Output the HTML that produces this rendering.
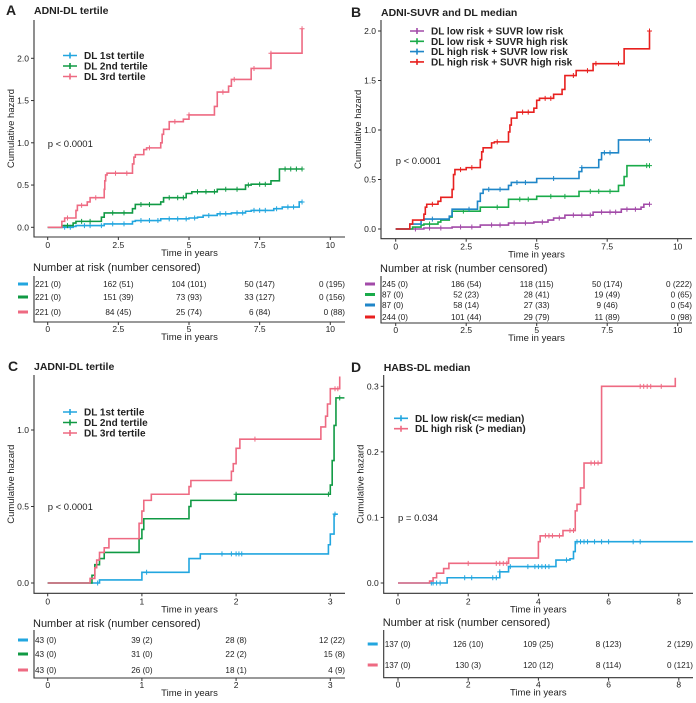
<!DOCTYPE html>
<html><head><meta charset="utf-8"><style>
body{margin:0;background:#fff;}
svg{display:block;font-family:"Liberation Sans",sans-serif;}
</style></head><body>
<svg id="fig" width="696" height="703" viewBox="0 0 696 703"></svg>
<script>
// ---------- data ----------
// Panel A: ADNI-DL tertile
const aT1Steps = [[0,0],[0.5,0],[0.9,0.01],[1.0,0.02],[2.0,0.04],[3.0,0.07],[3.1,0.08],[4.0,0.10],[5.0,0.11],[5.3,0.12],[5.5,0.14],[6.0,0.16],[6.5,0.17],[7.0,0.19],[7.2,0.20],[8.0,0.22],[8.3,0.24],[8.9,0.30],[9.0,0.30]];
const aT2Steps = [[0,0],[0.5,0.02],[0.9,0.05],[1.0,0.07],[1.9,0.12],[2.0,0.17],[3.0,0.22],[3.1,0.27],[4.0,0.30],[4.1,0.35],[4.9,0.40],[5.1,0.42],[6.0,0.45],[7.0,0.50],[7.2,0.51],[7.9,0.55],[8.2,0.69],[9.0,0.69]];
const aT3Steps = [[0,0],[0.5,0.07],[0.6,0.11],[1.0,0.20],[1.05,0.26],[1.4,0.30],[1.5,0.35],[2.0,0.45],[2.02,0.55],[2.05,0.62],[2.1,0.64],[3.0,0.75],[3.05,0.83],[3.1,0.86],[3.4,0.92],[3.5,0.94],[4.0,1.0],[4.05,1.10],[4.1,1.16],[4.3,1.25],[4.8,1.28],[5.0,1.33],[5.9,1.43],[6.0,1.60],[6.4,1.67],[6.5,1.75],[7.2,1.88],[7.9,2.06],[9.0,2.35]];
const aT1Cens = [0.6,0.8,1.3,1.5,1.9,2.3,2.7,3.3,3.6,3.9,4.3,4.6,4.9,5.2,5.7,6.1,6.3,6.7,6.9,7.3,7.5,7.7,8.1,8.5,8.7,9.0];
const aT2Cens = [0.7,1.2,1.5,2.3,2.7,3.3,3.6,4.3,4.6,4.8,5.3,5.6,5.9,6.3,6.7,7.1,7.5,7.7,8.4,8.6,8.8,9.0];
const aT3Cens = [0.7,1.2,1.7,2.4,2.8,3.6,4.5,5.0,6.2,6.6,7.3,7.9,9.0];
const aRisk1 = ["221 (0)","162 (51)","104 (101)","50 (147)","0 (195)"];
const aRisk2 = ["221 (0)","151 (39)","73 (93)","33 (127)","0 (156)"];
const aRisk3 = ["221 (0)","84 (45)","25 (74)","6 (84)","0 (88)"];
const aXTicks = ["0","2.5","5","7.5","10"];
const aYTicks = ["0.0","0.5","1.0","1.5","2.0"];

// Panel B: ADNI-SUVR and DL median
const bLLSteps = [[0,0],[0.5,0],[1.0,0.01],[2.0,0.02],[3.0,0.04],[4.0,0.06],[4.9,0.07],[5.4,0.09],[5.6,0.11],[6.0,0.14],[7.0,0.17],[8.0,0.20],[8.7,0.22],[8.8,0.25],[9.0,0.25]];
const bLHSteps = [[0,0],[0.6,0.02],[0.9,0.04],[1.0,0.05],[1.5,0.07],[1.6,0.09],[1.9,0.12],[2.0,0.18],[3.0,0.22],[4.0,0.30],[5.0,0.33],[6.5,0.38],[7.9,0.44],[8.1,0.53],[8.2,0.64],[9.0,0.64]];
const bHLSteps = [[0,0],[0.5,0.05],[0.9,0.09],[1.0,0.10],[1.9,0.13],[2.0,0.20],[2.9,0.28],[3.0,0.36],[3.1,0.40],[4.0,0.44],[4.1,0.47],[5.0,0.51],[6.5,0.58],[6.6,0.62],[7.2,0.70],[7.3,0.77],[7.9,0.90],[9.0,0.90]];
const bHHSteps = [[0,0],[0.5,0.05],[0.6,0.09],[1.0,0.15],[1.05,0.22],[1.1,0.25],[1.5,0.28],[1.6,0.32],[2.0,0.40],[2.05,0.55],[2.1,0.60],[2.5,0.62],[3.0,0.70],[3.05,0.78],[3.1,0.82],[3.4,0.87],[3.5,0.88],[4.0,0.98],[4.05,1.05],[4.1,1.12],[4.3,1.18],[4.9,1.22],[5.0,1.30],[5.1,1.32],[5.6,1.36],[5.9,1.41],[6.0,1.55],[6.4,1.60],[7.0,1.67],[8.1,1.82],[9.0,2.0]];
const bLLCens = [0.7,1.2,1.6,2.3,2.7,3.4,3.7,4.2,4.6,5.2,5.8,6.3,6.6,6.9,7.3,7.6,7.8,8.2,8.5,9.0];
const bLHCens = [1.2,2.4,3.6,4.4,4.7,5.5,6.0,6.9,7.2,7.6,8.9,9.0];
const bHLCens = [1.3,2.6,3.3,3.7,4.3,4.6,5.6,6.6,7.4,7.6,9.0];
const bHHCens = [1.3,2.3,2.7,3.6,4.5,4.7,5.3,5.5,6.3,6.8,7.1,7.9,9.0];
const bRisk1 = ["245 (0)","186 (54)","118 (115)","50 (174)","0 (222)"];
const bRisk2 = ["87 (0)","52 (23)","28 (41)","19 (49)","0 (65)"];
const bRisk3 = ["87 (0)","58 (14)","27 (33)","9 (46)","0 (54)"];
const bRisk4 = ["244 (0)","101 (44)","29 (79)","11 (89)","0 (98)"];
const bXTicks = ["0","2.5","5","7.5","10"];
const bYTicks = ["0.0","0.5","1.0","1.5","2.0"];

// Panel C: JADNI-DL tertile
const cT1Steps = [[0,0],[0.5,0],[0.55,0.02],[1.0,0.07],[1.5,0.16],[1.62,0.19],[2.98,0.25],[3.0,0.32],[3.04,0.45],[3.08,0.45]];
const cT2Steps = [[0,0],[0.47,0.05],[0.5,0.12],[0.55,0.16],[0.6,0.20],[0.97,0.29],[1.0,0.35],[1.02,0.42],[1.5,0.50],[1.52,0.54],[2.0,0.58],[3.0,0.64],[3.02,0.80],[3.04,1.03],[3.06,1.21],[3.15,1.21]];
const cT3Steps = [[0,0],[0.45,0.03],[0.5,0.10],[0.52,0.15],[0.55,0.20],[0.6,0.23],[0.65,0.29],[0.97,0.39],[1.0,0.47],[1.02,0.54],[1.1,0.58],[1.5,0.63],[1.52,0.67],[1.95,0.73],[1.97,0.78],[2.0,0.88],[2.04,0.94],[2.9,1.02],[2.95,1.09],[2.97,1.17],[3.0,1.27],[3.1,1.35]];
const cT1Cens = [0.53,1.05,1.85,1.95,2.0,2.03,2.06,3.05];
const cT2Cens = [2.0,2.98,3.1];
const cT3Cens = [2.2,3.05,3.08];
const cRisk1 = ["43 (0)","39 (2)","28 (8)","12 (22)"];
const cRisk2 = ["43 (0)","31 (0)","22 (2)","15 (8)"];
const cRisk3 = ["43 (0)","26 (0)","18 (1)","4 (9)"];
const cXTicks = ["0","1","2","3"];
const cYTicks = ["0.0","0.5","1.0"];

// Panel D: HABS-DL median
const dLowSteps = [[0,0],[0.9,0],[1.4,0.008],[2.9,0.017],[3.15,0.025],[4.5,0.035],[4.9,0.037],[5.0,0.048],[5.05,0.063],[8.4,0.063]];
const dHighSteps = [[0,0],[0.9,0.003],[1.0,0.008],[1.1,0.015],[1.3,0.022],[1.45,0.03],[3.15,0.038],[4.0,0.063],[4.05,0.072],[4.7,0.08],[5.05,0.11],[5.1,0.12],[5.2,0.145],[5.3,0.183],[5.8,0.30],[7.9,0.313]];
const dLowCens = [0.95,1.0,1.1,1.2,1.9,2.1,2.7,2.8,2.9,3.2,3.7,3.9,4.0,4.1,4.2,4.3,4.8,5.1,5.2,5.3,5.4,5.6,5.8,6.0,6.7,6.9];
const dHighCens = [2.0,2.8,2.9,3.0,3.1,4.2,4.3,4.4,4.6,4.9,5.0,5.5,5.6,5.7,6.9,7.0,7.1,7.2,7.5];
const dRisk1 = ["137 (0)","126 (10)","109 (25)","8 (123)","2 (129)"];
const dRisk2 = ["137 (0)","130 (3)","120 (12)","8 (114)","0 (121)"];
const dXTicks = ["0","2","4","6","8"];
const dYTicks = ["0.0","0.1","0.2","0.3"];

// ---------- drawing ----------
const NS = "http://www.w3.org/2000/svg";
const svg = document.getElementById("fig");
function mk(tag, attrs, parent, text){
  const e = document.createElementNS(NS, tag);
  for (const k in attrs) e.setAttribute(k, attrs[k]);
  if (text !== undefined) e.textContent = text;
  (parent || svg).appendChild(e);
  return e;
}
function txt(x,y,s,size,anchor,weight,parent,name){
  const t = mk("text",{x:x,y:y,"font-size":size,"text-anchor":anchor||"start","font-weight":weight||"normal",fill:"#222"},parent,s);
  
  
  return t;
}

function panel(p){
  const g = mk("g",{});
  
  
  const sx = v => p.x0 + (v - 0) * p.xs;
  const sy = v => p.y0 - v * p.ys;
  txt(p.letterX, p.titleY+1, p.letter, 14, "start", "bold", g, "panel-letter");
  txt(p.axisX, p.titleY, p.title, 10.5, "start", "bold", g, "panel-title");
  const ax = mk("path",{d:`M${p.axisX},${p.top} V${p.axisY} H${p.right}`,stroke:"#333","stroke-width":1.1,fill:"none"},g);
  
  
  p.yTicks.forEach(t=>{
    const y = sy(parseFloat(t));
    mk("line",{x1:p.axisX-3,x2:p.axisX,y1:y,y2:y,stroke:"#333"},g);
    txt(p.axisX-5, y+3, t, 8.5, "end", "normal", g, "y-tick-label");
  });
  p.xTicks.forEach(t=>{
    const x = sx(parseFloat(t));
    mk("line",{x1:x,x2:x,y1:p.axisY,y2:p.axisY+3,stroke:"#333"},g);
    txt(x, p.axisY+11, t, 8.5, "middle", "normal", g, "x-tick-label");
  });
  txt((p.axisX+p.right)/2, p.axisY+19, "Time in years", 9.5, "middle", "normal", g, "x-axis-title");
  const yl = txt(0,0,"Cumulative hazard",9.5,"middle","normal",g,"y-axis-title");
  yl.setAttribute("transform",`translate(${p.axisX-20},${(p.top+p.axisY)/2}) rotate(-90)`);
  txt(sx(0), p.pY, p.pText, 9.5, "start", "normal", g, "p-value");
  p.series.forEach((s,i)=>{
    let d = "";
    s.steps.forEach((pt,j)=>{
      if (j===0) d += `M${sx(pt[0])},${sy(pt[1])}`;
      else d += ` H${sx(pt[0])} V${sy(pt[1])}`;
    });
    const path = mk("path",{d:d,stroke:s.color,"stroke-width":1.6,fill:"none"},g);
    
    
    s.cens.forEach(c=>{
      let v = 0;
      s.steps.forEach(pt=>{ if (pt[0] <= c) v = pt[1]; });
      const cx = sx(c), cy = sy(v);
      const m = mk("path",{d:`M${cx-2.5},${cy} H${cx+2.5} M${cx},${cy-2.5} V${cy+2.5}`,stroke:s.color,"stroke-width":1},g);
      
      
    });
    const ly = p.legY + i*p.legDy;
    const lm = mk("path",{d:`M${p.legX},${ly} H${p.legX+14} M${p.legX+7},${ly-3} V${ly+3}`,stroke:s.color,"stroke-width":1.6},g);
    
    
    txt(p.legX+21, ly+3.5, s.label, 10, "start", "bold", g, "legend-entry");
    const ry = p.riskRows[i];
    const rb = mk("rect",{x:p.axisX-16,y:ry-4.5,width:10,height:3,fill:s.color},g);
    
    
    s.risk.forEach((r,k)=>{
      const x = sx(parseFloat(p.xTicks[k]));
      const anchor = k===0 ? "start" : (k===p.xTicks.length-1 ? "end" : "middle");
      const xx = k===0 ? p.axisX+1 : (k===p.xTicks.length-1 ? p.right : x);
      txt(xx, ry, r, 8.2, anchor, "normal", g, "risk-count");
    });
  });
  txt(p.axisX-1, p.riskTitleY, "Number at risk (number censored)", 11, "start", "normal", g, "risk-table-title");
  mk("path",{d:`M${p.axisX},${p.riskTop} V${p.riskAxis} H${p.right}`,stroke:"#333","stroke-width":1.1,fill:"none"},g);
  p.xTicks.forEach(t=>{
    const x = sx(parseFloat(t));
    mk("line",{x1:x,x2:x,y1:p.riskAxis,y2:p.riskAxis+3,stroke:"#333"},g);
    txt(x, p.riskAxis+10, t, 8.5, "middle", "normal", g, "risk-x-tick-label");
  });
  txt((p.axisX+p.right)/2, p.riskAxis+18, "Time in years", 9.5, "middle", "normal", g, "risk-x-axis-title");
}

const blue="#22a6df", green="#109a44", pink="#ee6a82";
panel({name:"panel-a",letter:"A",letterX:6,title:"ADNI-DL tertile",titleY:14,axisX:34,axisY:237,top:20,right:345,
  x0:47.7,xs:28.26,y0:227.3,ys:84.5,xTicks:aXTicks,yTicks:aYTicks,pText:"p < 0.0001",pY:147,
  legX:63,legY:55.5,legDy:10.5,riskTitleY:271,riskTop:276,riskAxis:322,riskRows:[287,300,315],
  series:[
    {key:"dl-1st-tertile",label:"DL 1st tertile",color:blue,steps:aT1Steps,cens:aT1Cens,risk:aRisk1},
    {key:"dl-2nd-tertile",label:"DL 2nd tertile",color:green,steps:aT2Steps,cens:aT2Cens,risk:aRisk2},
    {key:"dl-3rd-tertile",label:"DL 3rd tertile",color:pink,steps:aT3Steps,cens:aT3Cens,risk:aRisk3}]});
panel({name:"panel-b",letter:"B",letterX:351,title:"ADNI-SUVR and DL median",titleY:16,axisX:381,axisY:238.7,top:20,right:692,
  x0:395.7,xs:28.2,y0:229,ys:99,xTicks:bXTicks,yTicks:bYTicks,pText:"p < 0.0001",pY:164,
  legX:410,legY:31,legDy:10.3,riskTitleY:272,riskTop:276,riskAxis:323,riskRows:[287,297.5,308,320],
  series:[
    {key:"dl-low-suvr-low",label:"DL low risk + SUVR low risk",color:"#a24aa8",steps:bLLSteps,cens:bLLCens,risk:bRisk1},
    {key:"dl-low-suvr-high",label:"DL low risk + SUVR high risk",color:"#1aab4a",steps:bLHSteps,cens:bLHCens,risk:bRisk2},
    {key:"dl-high-suvr-low",label:"DL high risk + SUVR low risk",color:"#1f86c8",steps:bHLSteps,cens:bHLCens,risk:bRisk3},
    {key:"dl-high-suvr-high",label:"DL high risk + SUVR high risk",color:"#e8201f",steps:bHHSteps,cens:bHHCens,risk:bRisk4}]});
panel({name:"panel-c",letter:"C",letterX:8,title:"JADNI-DL tertile",titleY:370,axisX:34,axisY:593.3,top:375,right:345,
  x0:47.7,xs:94.2,y0:583,ys:153,xTicks:cXTicks,yTicks:cYTicks,pText:"p < 0.0001",pY:510,
  legX:63,legY:412,legDy:10.5,riskTitleY:627,riskTop:630,riskAxis:678,riskRows:[643,657,673],
  series:[
    {key:"dl-1st-tertile",label:"DL 1st tertile",color:blue,steps:cT1Steps,cens:cT1Cens,risk:cRisk1},
    {key:"dl-2nd-tertile",label:"DL 2nd tertile",color:green,steps:cT2Steps,cens:cT2Cens,risk:cRisk2},
    {key:"dl-3rd-tertile",label:"DL 3rd tertile",color:pink,steps:cT3Steps,cens:cT3Cens,risk:cRisk3}]});
panel({name:"panel-d",letter:"D",letterX:351,title:"HABS-DL median",titleY:371,axisX:383.7,axisY:593.3,top:375,right:693,
  x0:398,xs:35.1,y0:583,ys:655.6,xTicks:dXTicks,yTicks:dYTicks,pText:"p = 0.034",pY:521,
  legX:394,legY:418.3,legDy:10.4,riskTitleY:626,riskTop:630,riskAxis:677.7,riskRows:[647,668],
  series:[
    {key:"dl-low-risk",label:"DL low risk(<= median)",color:blue,steps:dLowSteps,cens:dLowCens,risk:dRisk1},
    {key:"dl-high-risk",label:"DL high risk (> median)",color:pink,steps:dHighSteps,cens:dHighCens,risk:dRisk2}]});
</script>
</body></html>
